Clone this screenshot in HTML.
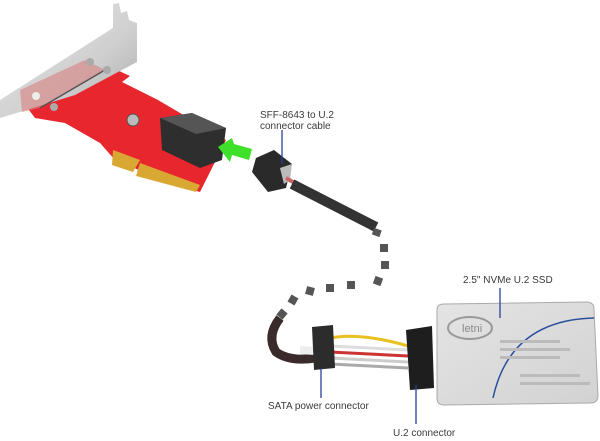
<!DOCTYPE html>
<html><head><style>
html,body{margin:0;padding:0;background:#fff;width:600px;height:441px;overflow:hidden}
svg{display:block}
text{font-family:"Liberation Sans",sans-serif;font-size:10px;fill:#3a3a3a}
</style></head><body>
<svg width="600" height="441" viewBox="0 0 600 441">
<defs>
<linearGradient id="br" x1="0" y1="0" x2="1" y2="1"><stop offset="0" stop-color="#e8e8e8"/><stop offset="0.6" stop-color="#cfcfcf"/><stop offset="1" stop-color="#a8a8a8"/></linearGradient>
<linearGradient id="ssd" x1="0" y1="0" x2="1" y2="1"><stop offset="0" stop-color="#e4e4e4"/><stop offset="1" stop-color="#d2d2d2"/></linearGradient>
</defs>
<!-- PCB -->
<polygon points="20,98 100,62 130,76 122,82 158,100 226,140 200,192 170,183 115,160 100,143 65,123 35,118" fill="#e8262e"/>
<!-- bracket -->
<polygon points="0,100 113,28 113,4 119,3 121,13 127,11 129,20 137,23 137,62 75,95 20,112 0,118" fill="url(#br)"/>
<polygon points="20,90 85,60 105,70 40,108 22,112" fill="#d88080" opacity="0.6"/>
<line x1="40" y1="108" x2="105" y2="70" stroke="#555" stroke-width="1.5"/>
<circle cx="90" cy="62" r="4" fill="#aaa"/><circle cx="107" cy="70" r="4" fill="#aaa"/><circle cx="36" cy="96" r="4" fill="#eee"/><circle cx="54" cy="107" r="4" fill="#aaa"/>
<circle cx="133" cy="120" r="6" fill="#bbb" stroke="#555" stroke-width="1"/>
<!-- gold fingers -->
<polygon points="113,150 140,160 133,172 112,165" fill="#d8a832"/>
<polygon points="140,163 200,185 196,192 136,176" fill="#d8a832"/>
<!-- connector -->
<polygon points="160,118 192,113 226,128 222,160 200,168 162,150" fill="#2e2e2e"/>
<polygon points="160,118 192,113 226,128 196,134" fill="#555"/>
<!-- green arrow -->
<polygon points="218,147 232,138 234,144 252,149 249,160 232,155 230,162" fill="#3ee02a"/>
<!-- cable head -->
<polygon points="256,158 274,150 292,164 286,188 268,192 252,172" fill="#2a2a2a"/>
<polygon points="280,168 292,164 290,180 284,184" fill="#bbb"/>
<line x1="286" y1="178" x2="300" y2="186" stroke="#c66" stroke-width="4"/>
<!-- cable tube -->
<line x1="292" y1="184" x2="376" y2="227" stroke="#333" stroke-width="10" stroke-linecap="butt"/>
<!-- dashes -->
<g fill="#555">
<rect x="373" y="229" width="8" height="7" transform="rotate(20 377 232)"/>
<rect x="380" y="244" width="8" height="8"/>
<rect x="381" y="261" width="8" height="8"/>
<rect x="374" y="277" width="8" height="8" transform="rotate(20 378 281)"/>
<rect x="347" y="281" width="8" height="8"/>
<rect x="326" y="284" width="8" height="8"/>
<rect x="306" y="287" width="8" height="8" transform="rotate(15 310 291)"/>
<rect x="289" y="296" width="8" height="8" transform="rotate(30 293 300)"/>
<rect x="278" y="310" width="8" height="8" transform="rotate(40 282 314)"/>
</g>
<!-- braided loop -->
<path d="M280,318 Q266,336 276,352 Q290,362 315,358" stroke="#3a2a2a" stroke-width="9" fill="none"/>
<!-- wires -->
<g stroke-width="3" fill="none">
<path d="M330,338 Q360,332 408,346" stroke="#e8c020"/>
<path d="M330,346 L408,350" stroke="#ddd"/>
<path d="M330,352 L408,356" stroke="#c33"/>
<path d="M330,358 L408,362" stroke="#ccc"/>
<path d="M330,364 L408,368" stroke="#aaa"/>
<path d="M300,350 L330,352" stroke="#eee" stroke-width="8"/>
</g>
<!-- SATA connector -->
<polygon points="312,327 333,325 335,368 314,370" fill="#2c2c2c"/>
<!-- U.2 connector -->
<polygon points="406,330 432,326 434,388 410,390" fill="#1e1e1e"/>
<!-- SSD -->
<path d="M437,310 Q437,304 444,304 L586,302 Q594,302 594,309 L598,396 Q598,403 590,403 L444,405 Q437,405 437,398 Z" fill="url(#ssd)" stroke="#aaa"/>
<path d="M493,398 Q510,320 594,318" stroke="#2b4f9c" stroke-width="1.5" fill="none"/>
<ellipse cx="470" cy="328" rx="22" ry="11" fill="none" stroke="#999" stroke-width="2"/>
<text x="462" y="332" style="font-size:11px;fill:#888">letni</text>
<g fill="#bbb"><rect x="500" y="340" width="60" height="3"/><rect x="500" y="348" width="70" height="3"/><rect x="500" y="356" width="60" height="3"/><rect x="520" y="374" width="60" height="3"/><rect x="520" y="382" width="70" height="3"/></g>
<!-- labels & leaders -->
<g stroke="#2a3f9e" stroke-width="1.3">
<line x1="282" y1="130" x2="282" y2="164"/>
<line x1="500" y1="288" x2="500" y2="318"/>
<line x1="321" y1="368" x2="321" y2="398"/>
<line x1="416" y1="385" x2="416" y2="424"/>
</g>
<text x="260" y="118">SFF-8643 to U.2</text>
<text x="260" y="129">connector cable</text>
<text x="463" y="283">2.5" NVMe U.2 SSD</text>
<text x="268" y="409">SATA power connector</text>
<text x="393" y="436">U.2 connector</text>
</svg>
</body></html>
